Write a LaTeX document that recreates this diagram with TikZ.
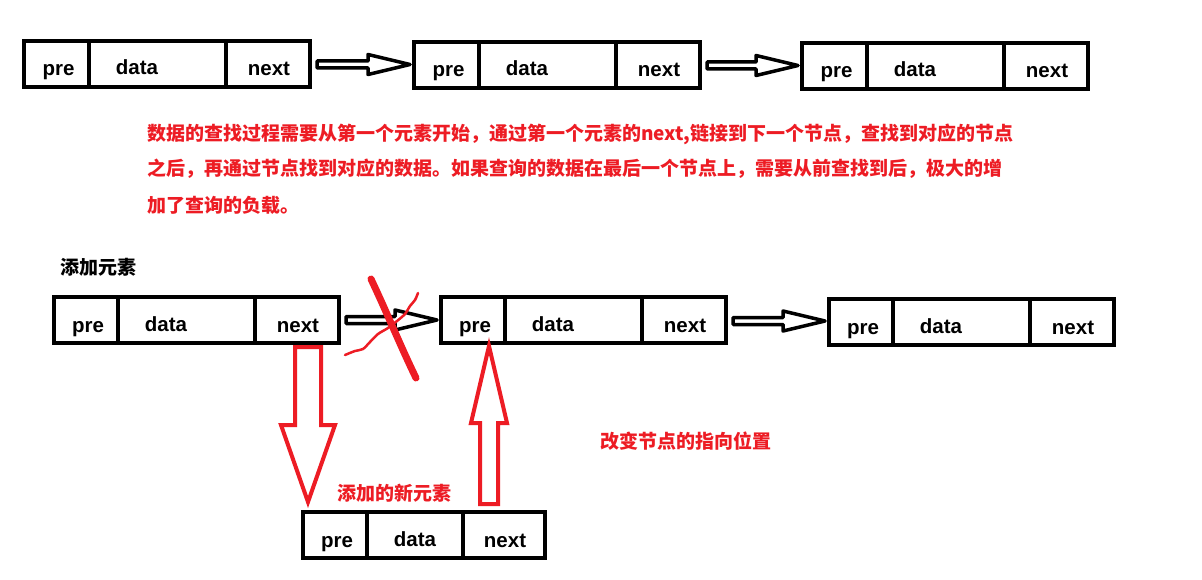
\documentclass[tikz,border=0pt]{standalone}
\usepackage{fontspec}
\setmainfont{Liberation Sans}
\newfontfamily\cjk{Noto Sans CJK SC}
\usetikzlibrary{calc}
\definecolor{pred}{RGB}{237,28,36}
\newcommand\listelem[6]{%
  \node[cell, minimum width=#4pt] (#1p) at (#2+2,#3+2) {};
  \node[cell, minimum width=#5pt] (#1d) at (#1p.north east) {};
  \node[cell, minimum width=#6pt] (#1n) at (#1d.north east) {};
  \node[lbl] (#1pl) at ([xshift=2pt,yshift=-35pt]#1p.north) {pre};
  \node[lbl] (#1dl) at ([xshift=48pt,yshift=-34pt]#1d.north west) {data};
  \node[lbl] (#1nl) at ([xshift=1pt,yshift=-35pt]#1n.north) {next};
}
\newcommand\hollowarrow[2]{%
  \draw[harrow] let \p1=([xshift=7pt]#1), \p2=([xshift=-4pt]#2), \p3=($(\p1)!.5!(\p2)$) in
    (\x1,\y3+3.5pt) -- (\x2-42pt,\y3+3.5pt) -- (\x2-42pt,\y3+10pt) -- (\x2,\y3)
    -- (\x2-42pt,\y3-10pt) -- (\x2-42pt,\y3-3.5pt) -- (\x1,\y3-3.5pt) -- cycle;
}
% start, tip, shaft half, head half, head length, sign (1 down, -1 up)
\newcommand\redarrow[6]{%
  \draw[rarrow] let \p1=(#1), \p2=(#2) in
    (\x1-#3pt,\y1) -- (\x1-#3pt,\y2+#6*#5pt) -- (\x1-#4pt,\y2+#6*#5pt) -- (\x1,\y2)
    -- (\x1+#4pt,\y2+#6*#5pt) -- (\x1+#3pt,\y2+#6*#5pt) -- (\x1+#3pt,\y1) -- cycle;
}
\begin{document}
\begin{tikzpicture}[x=1pt,y=-1pt,
  cell/.style={draw, line width=4pt, minimum height=46pt, outer sep=0pt, inner sep=0pt, anchor=north west},
  lbl/.style={font=\fontsize{20.5}{24}\selectfont\bfseries, anchor=base, inner sep=0pt},
  harrow/.style={draw, line width=3.5pt, line join=round, fill=white},
  rarrow/.style={draw=pred, line width=4pt, line join=miter},
  cjktxt/.style={font=\cjk\bfseries\fontsize{19}{23}\selectfont, anchor=west, inner sep=0pt},
  redtxt/.style={cjktxt, text=pred}]
\useasboundingbox[fill=white] (0,0) rectangle (1202,580);

% top row
\listelem{a}{22}{39}{65}{137}{84}
\listelem{b}{412}{40}{65}{137}{84}
\listelem{c}{800}{41}{65}{137}{84}
\hollowarrow{an.east}{bp.west}
\hollowarrow{bn.east}{cp.west}

% description
\node[redtxt] (t1) at (147,134) {数据的查找过程需要从第一个元素开始，通过第一个元素的next,链接到下一个节点，查找到对应的节点};
\node[redtxt] (t2) at (147,169) {之后，再通过节点找到对应的数据。如果查询的数据在最后一个节点上，需要从前查找到后，极大的增};
\node[redtxt] (t3) at (147,205) {加了查询的负载。};

% bottom row
\node[cjktxt] (title) at (60,267) {添加元素};
\listelem{A}{52}{295}{64}{137}{84}
\listelem{B}{439}{295}{64}{137}{84}
\listelem{C}{827}{297}{64}{137}{84}
\hollowarrow{An.east}{Bp.west}
\hollowarrow{Bn.east}{Cp.west}

% red cross over the old link
\draw[pred, line width=2.5pt, line cap=round] plot[smooth] coordinates
  {(345,355) (355,351) (363,349) (370,342) (378,334) (388,328) (397,321) (405,314) (410,306) (415,300) (418,293)};
\draw[pred, line width=7pt, line cap=round] (371,279) .. controls (388,315) and (400,345) .. (416,378);

% new element
\listelem{N}{301}{510}{64}{96}{82}
\node[redtxt] (newlbl) at (337,493) {添加的新元素};
\node[redtxt] (change) at (600,441) {改变节点的指向位置};

\redarrow{[xshift=11pt,yshift=-4pt]An.south}{[yshift=10pt]Np.north}{13}{27}{77}{1}
\redarrow{[xshift=-15pt,yshift=8pt]Nn.north}{[yshift=-3pt]Bp.south}{9}{18}{77}{-1}
\end{tikzpicture}
\end{document}
